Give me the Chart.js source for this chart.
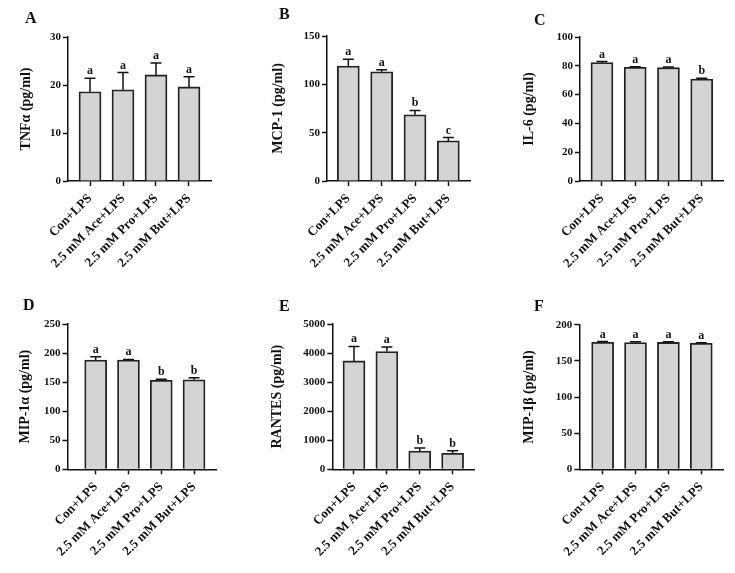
<!DOCTYPE html>
<html>
<head>
<meta charset="utf-8">
<script src="https://cdn.jsdelivr.net/npm/chart.js@4"></script>
<style>
  body { margin: 0; background: #fff; }
  #fig { position: relative; width: 735px; height: 573px; background: #fff; }
  #fig canvas { position: absolute; }
</style>
</head>
<body>
<div id="fig"></div>
<script>
const groups = ["Con+LPS", "2.5 mM Ace+LPS", "2.5 mM Pro+LPS", "2.5 mM But+LPS"];

const tnfMean = [18.6, 19.0, 22.1, 19.6];
const tnfErr = [2.8, 3.6, 2.5, 2.1];
const tnfSig = ["a", "a", "a", "a"];

const mcpMean = [119, 113, 68.5, 41.5];
const mcpErr = [7, 2, 4.5, 3.5];
const mcpSig = ["a", "a", "b", "c"];

const il6Mean = [82.2, 79.0, 78.7, 70.8];
const il6Err = [0.7, 0.4, 0.5, 0.5];
const il6Sig = ["a", "a", "a", "b"];

const mip1aMean = [188, 188, 153, 154];
const mip1aErr = [5.5, 1, 2, 3.5];
const mip1aSig = ["a", "a", "b", "b"];

const rantesMean = [3730, 4050, 630, 550];
const rantesErr = [500, 160, 100, 90];
const rantesSig = ["a", "a", "b", "b"];

const mip1bMean = [175.6, 175.2, 175.5, 174.3];
const mip1bErr = [1, 1.3, 0.8, 0.8];
const mip1bSig = ["a", "a", "a", "a"];

const yMaxes = [30, 150, 100, 250, 5000, 200];
const ySteps = [10, 50, 20, 50, 1000, 50];

const serif = "'Liberation Serif', 'Times New Roman', serif";
const font = (size) => ({ family: serif, size, weight: "bold" });
const ink = "#111";

// canvas box [left, top, w, h], plot area [l, t, r, b] inside it, x range, title centre x, letter pos
const panels = [
  { letter: "A", title: "TNFα (pg/ml)", mean: tnfMean, err: tnfErr, sig: tnfSig,
    box: [0, 0, 245, 286], area: [68, 37, 211, 181], xr: [-0.667, 3.667], tx: 26, lp: [25, 23] },
  { letter: "B", title: "MCP-1 (pg/ml)", mean: mcpMean, err: mcpErr, sig: mcpSig,
    box: [245, 0, 245, 286], area: [82, 36, 225, 181], xr: [-0.64, 3.65], tx: 33, lp: [34, 19] },
  { letter: "C", title: "IL-6 (pg/ml)", mean: il6Mean, err: il6Err, sig: il6Sig,
    box: [490, 0, 245, 286], area: [90, 37, 233, 181], xr: [-0.66, 3.64], tx: 39, lp: [44, 25] },
  { letter: "D", title: "MIP-1α (pg/ml)", mean: mip1aMean, err: mip1aErr, sig: mip1aSig,
    box: [0, 286, 245, 287], area: [67.5, 38, 216, 183.3], xr: [-0.86, 3.67], tx: 25, lp: [23, 24] },
  { letter: "E", title: "RANTES (pg/ml)", mean: rantesMean, err: rantesErr, sig: rantesSig,
    box: [245, 286, 245, 287], area: [87.3, 38, 229.3, 183.3], xr: [-0.66, 3.66], tx: 32, lp: [34, 25] },
  { letter: "F", title: "MIP-1β (pg/ml)", mean: mip1bMean, err: mip1bErr, sig: mip1bSig,
    box: [490, 286, 245, 287], area: [89.3, 38.7, 233.3, 183.3], xr: [-0.71, 3.67], tx: 39, lp: [44, 25] },
];

// error bars (upper only), significance letters and the panel letter
const overlay = (p) => ({
  id: "overlay",
  afterDatasetsDraw(chart) {
    const { ctx } = chart;
    const y = chart.scales.y;
    ctx.save();
    ctx.strokeStyle = ink;
    ctx.fillStyle = ink;
    ctx.lineWidth = 1.5;
    ctx.textAlign = "center";
    ctx.textBaseline = "alphabetic";
    ctx.font = `bold 12px ${serif}`;
    chart.getDatasetMeta(0).data.forEach((bar, i) => {
      const base = y.getPixelForValue(p.mean[i]);
      const top = y.getPixelForValue(p.mean[i] + p.err[i]);
      ctx.beginPath();
      ctx.moveTo(bar.x, base);
      ctx.lineTo(bar.x, top);
      ctx.moveTo(bar.x - 5.5, top);
      ctx.lineTo(bar.x + 5.5, top);
      ctx.stroke();
      ctx.fillText(p.sig[i], bar.x, top - 4);
    });
    ctx.textAlign = "left";
    ctx.font = `bold 16px ${serif}`;
    ctx.fillText(p.letter, p.lp[0], p.lp[1]);
    ctx.restore();
  },
});

const fig = document.getElementById("fig");

panels.forEach((p, k) => {
  const [bx, by, w, h] = p.box;
  const [l, t, r, b] = p.area;
  const canvas = document.createElement("canvas");
  canvas.width = w;
  canvas.height = h;
  canvas.style.left = bx + "px";
  canvas.style.top = by + "px";
  fig.appendChild(canvas);

  const padL = p.tx - 8.4;

  new Chart(canvas, {
    type: "bar",
    data: {
      datasets: [{
        data: p.mean.map((v, i) => ({ x: i, y: v })),
        backgroundColor: "#d4d4d4",
        borderColor: "#222",
        borderWidth: 1.8,
        barThickness: 22,
      }],
    },
    options: {
      responsive: false,
      animation: false,
      layout: { padding: { left: padL, top: t, right: w - r, bottom: 0 } },
      plugins: { legend: { display: false }, tooltip: { enabled: false } },
      scales: {
        x: {
          type: "linear",
          offset: false,
          min: p.xr[0],
          max: p.xr[1],
          afterBuildTicks: (ax) => { ax.ticks = groups.map((_, i) => ({ value: i })); },
          afterFit: (ax) => { ax.height = h - b; },
          grid: { drawOnChartArea: false, offset: false, tickLength: 5, tickColor: ink, tickWidth: 1.5 },
          border: { color: ink, width: 1.5 },
          ticks: {
            callback: (v) => groups[v],
            minRotation: 45,
            maxRotation: 45,
            autoSkip: false,
            padding: 5,
            color: ink,
            font: font(13),
          },
        },
        y: {
          min: 0,
          max: yMaxes[k],
          afterFit: (ax) => { ax.width = l - padL; },
          grid: { drawOnChartArea: false, tickLength: 5, tickColor: ink, tickWidth: 1.5 },
          border: { color: ink, width: 1.5 },
          ticks: { stepSize: ySteps[k], padding: 2, color: ink, font: font(11), callback: (v) => String(v) },
          title: { display: true, text: p.title, color: ink, font: font(14), padding: 0 },
        },
      },
    },
    plugins: [overlay(p)],
  });
});
</script>
</body>
</html>
